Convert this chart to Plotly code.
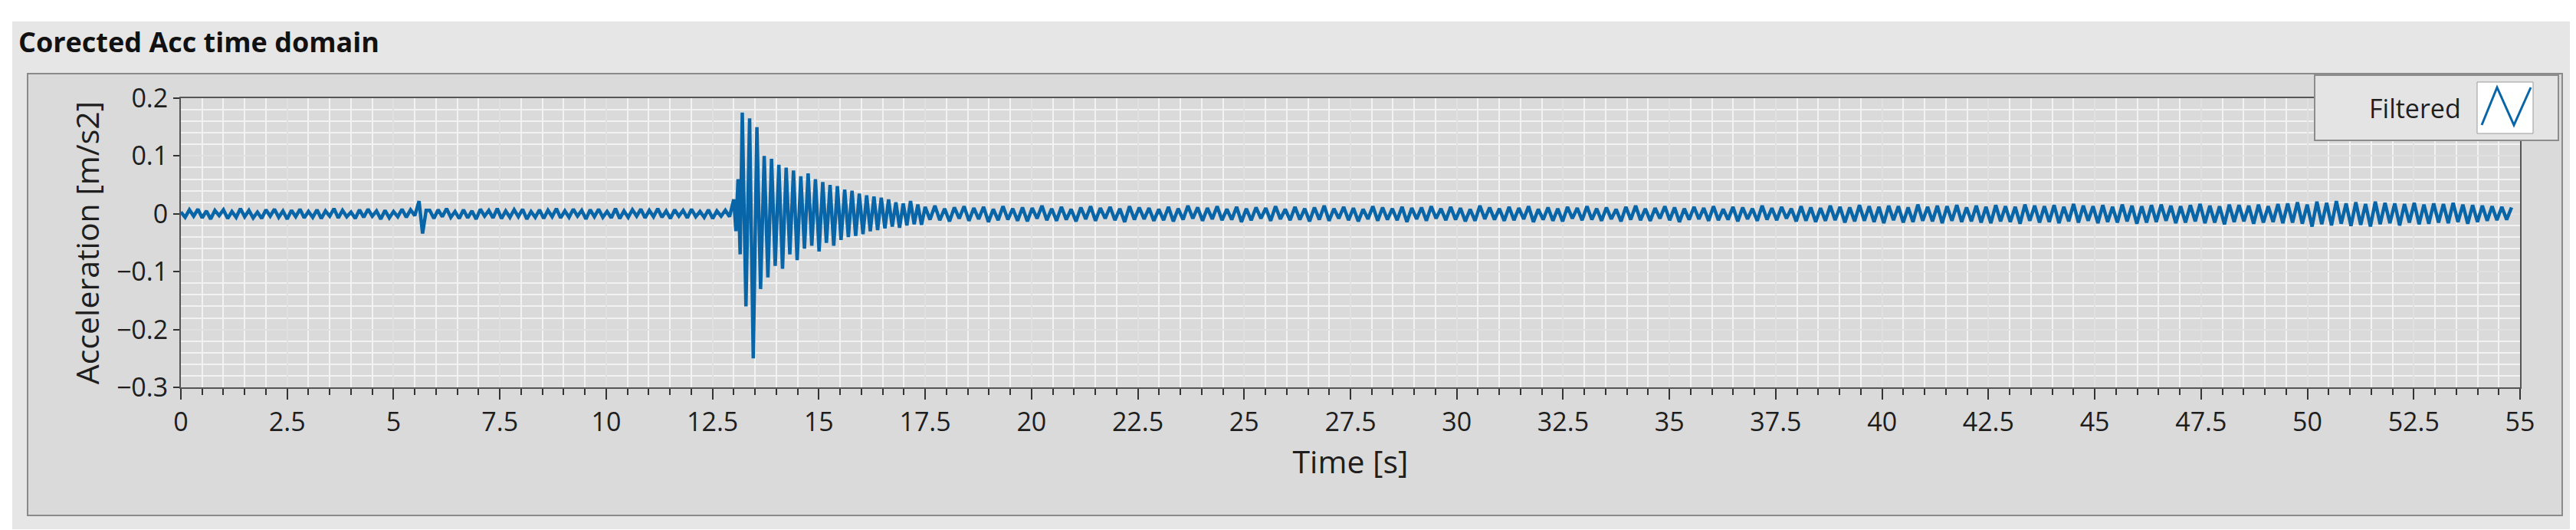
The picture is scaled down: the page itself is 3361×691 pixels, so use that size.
import numpy as np
import plotly.graph_objects as go

# acceleration samples in milli m/s2
pre_event = [3, -6, 7, -4, 8, -7, 5, -9, 6, -3, 7, -8, 4, -6, 9, -5, 6, -7, 3, -8,
             7, -4, 8, -6, 5, -9, 6, -5, 8, -7, 4, -6, 7, -8, 5, -4, 9, -7, 6, -5,
             3, -8, 7, -6, 8, -4, 5, -9, 6, -7, 4, -5, 8, -6, 7, -3]
spike_5s = [22, -34, 6]
quiet = [6, -8, 7, -5, 9, -6, 4, -8, 7, -7, 5, -9, 8, -4, 6, -7, 9, -8, 5, -6,
         7, -5, 8, -9, 4, -6, 7, -8, 6, -5, 9, -7, 5, -6, 8, -4, 6, -9, 7, -5,
         8, -6, 4, -7, 9, -8, 5, -6, 7, -4, 8, -7, 6, -5, 9, -6, 5, -8, 7, -4,
         6, -7, 8, -5, 4, -6, 7, -8, 5, -4, 6, -5]
onset = [25, -30, 60, -70]
burst = [175, -160, 165, -250, 150, -130, 100, -110, 95, -90, 85, -95, 80, -70, 75, -80,
         65, -60, 70, -55, 60, -65, 55, -50, 50, -55, 48, -45, 42, -40, 40, -38, 35, -35,
         32, -30, 30, -28, 28, -25, 25, -22, 20, -24, 18, -20, 22, -18, 16, -19]
tail = [12, -10, 14, -11, 9, -13, 11, -8, 13, -12, 10, -9, 12, -14, 8, -11, 13, -10, 9, -12,
        11, -13, 10, -8, 14, -11, 9, -12, 12, -10, 8, -13, 11, -9, 13, -12, 10, -8, 12, -11,
        9, -14, 13, -10, 11, -9, 10, -12, 8, -11, 12, -13, 9, -10, 14, -8, 11, -12, 10, -9,
        13, -11, 8, -10, 12, -14, 9, -11, 11, -8, 10, -12, 13, -9, 8, -11, 12, -10, 9, -13,
        11, -10, 14, -12, 9, -8, 12, -11, 10, -13, 8, -9, 13, -12, 11, -10, 9, -11, 12, -14,
        10, -9, 11, -12, 13, -8, 9, -11, 12, -10, 10, -13, 8, -12, 14, -9, 11, -10, 9, -12,
        12, -11, 10, -9, 13, -14, 8, -10, 11, -12, 9, -13, 12, -8, 10, -11, 13, -10, 9, -12,
        11, -9, 8, -13, 12, -10, 14, -11, 9, -12, 10, -8, 13, -11, 11, -14, 9, -10, 12, -9,
        10, -12, 13, -11, 8, -10, 12, -13, 11, -9, 9, -12, 14, -10, 10, -11, 12, -8, 9, -13,
        13, -12, 11, -14, 10, -12, 14, -11, 12, -15, 11, -13, 15, -12, 13, -14, 12, -16, 14, -11,
        13, -15, 11, -14, 16, -12, 12, -13, 14, -16, 13, -12, 15, -14, 11, -13, 14, -15, 12, -16,
        15, -13, 13, -14, 12, -17, 16, -12, 14, -15, 13, -14, 15, -16, 12, -13, 17, -15, 14, -12,
        13, -16, 15, -14, 12, -15, 16, -13, 14, -17, 13, -15, 15, -14, 16, -12, 14, -16, 13, -15,
        15, -13, 17, -16, 14, -15, 13, -18, 16, -14, 15, -13, 14, -17, 16, -15, 13, -14, 17, -16,
        18, -15, 20, -17, 16, -22, 21, -18, 19, -20, 22, -17, 18, -21, 20, -19, 17, -22, 21, -18,
        19, -16, 18, -20, 17, -15, 19, -18, 16, -17, 18, -15, 17, -16, 19, -14, 16, -17, 15, -14,
        14, -12, 13, -11, 12, -10, 11]

# time span [s] covered by each segment
segment_spans = [(0.0, 5.6), (5.6, 5.85), (5.85, 13.0), (13.0, 13.2), (13.2, 17.5), (17.5, 54.8)]

TRACE_COLOR = "#0865a8"
PANEL_COLOR = "#dadada"
FRAME_COLOR = "#e6e6e6"
TEXT_COLOR = "#1e1e1e"

segments = [pre_event, spike_5s, quiet, onset, burst, tail]
acc = np.concatenate([np.array(s) / 1000.0 for s in segments])
time = np.concatenate([np.linspace(a, b, len(s), endpoint=(i == len(segments) - 1))
                       for i, (s, (a, b)) in enumerate(zip(segments, segment_spans))])

W, H = 3361, 691
L, R, T, B = 228, 3280, 120, 497


def px(x):
    return (x - L) / (R - L)


def py(y):
    return (B - y) / (B - T)


fig = go.Figure()
fig.add_trace(go.Scatter(x=time, y=acc, mode="lines", name="Filtered",
                         line=dict(color=TRACE_COLOR, width=4.5), showlegend=False))

shapes = [
    # outer frame
    dict(type="rect", xref="paper", yref="paper", x0=px(8), x1=px(3350), y0=py(20), y1=py(682),
         fillcolor=FRAME_COLOR, line=dict(width=0), layer="below"),
    # inner graph panel
    dict(type="rect", xref="paper", yref="paper", x0=px(28), x1=px(3335), y0=py(88), y1=py(664),
         fillcolor=PANEL_COLOR, line=dict(color="#8a8a8a", width=2), layer="below"),
    # legend box
    dict(type="rect", xref="paper", yref="paper", x0=px(3012), x1=px(3330), y0=py(90), y1=py(175),
         fillcolor="#e4e4e4", line=dict(color="#8c8c8c", width=2), layer="above"),
    dict(type="rect", xref="paper", yref="paper", x0=px(3224), x1=px(3297), y0=py(99), y1=py(166),
         fillcolor="white", line=dict(color="#9a9a9a", width=1), layer="above"),
    dict(type="path", xref="paper", yref="paper", layer="above",
         path=f"M {px(3230)},{py(155)} L {px(3250)},{py(106)} L {px(3272)},{py(155)} L {px(3294)},{py(106)}",
         line=dict(color=TRACE_COLOR, width=3)),
]

fig.update_layout(
    width=W, height=H,
    margin=dict(l=L, r=W - R, t=T, b=H - B),
    paper_bgcolor="white",
    plot_bgcolor="white",
    font=dict(family="Open Sans", size=34, color=TEXT_COLOR),
    shapes=shapes,
    annotations=[
        dict(text="<b>Corected Acc time domain</b>", xref="paper", yref="paper",
             x=px(14), y=py(46), xanchor="left", yanchor="middle", showarrow=False,
             font=dict(size=36, family="Open Sans", color="#111")),
        dict(text="Filtered", xref="paper", yref="paper", x=px(3205), y=py(133),
             xanchor="right", yanchor="middle", showarrow=False, font=dict(size=34)),
    ],
    xaxis=dict(
        range=[0, 55], tick0=0, dtick=2.5, ticks="outside", ticklen=14, tickwidth=2,
        tickcolor="#333", showline=True, linecolor="#555", linewidth=2, mirror=True,
        gridcolor="#e0e0e0", gridwidth=1.5, zeroline=False,
        minor=dict(dtick=0.5, ticks="outside", ticklen=8, tickcolor="#333",
                   showgrid=True, gridcolor="#f2f2f2"),
        title=dict(text="Time [s]", standoff=18), tickfont=dict(size=34),
    ),
    yaxis=dict(
        range=[-0.3, 0.2], tick0=-0.3, dtick=0.1, ticks="outside", ticklen=8, tickwidth=2,
        tickcolor="#333", showline=True, linecolor="#555", linewidth=2, mirror=True,
        gridcolor="#e0e0e0", gridwidth=1.5, zeroline=False,
        minor=dict(dtick=0.02, showgrid=True, gridcolor="#f2f2f2"),
        title=dict(text="Acceleration [m/s2]", standoff=10), tickfont=dict(size=34),
        tickformat="~g",
    ),
)

fig.write_html("out.html")
